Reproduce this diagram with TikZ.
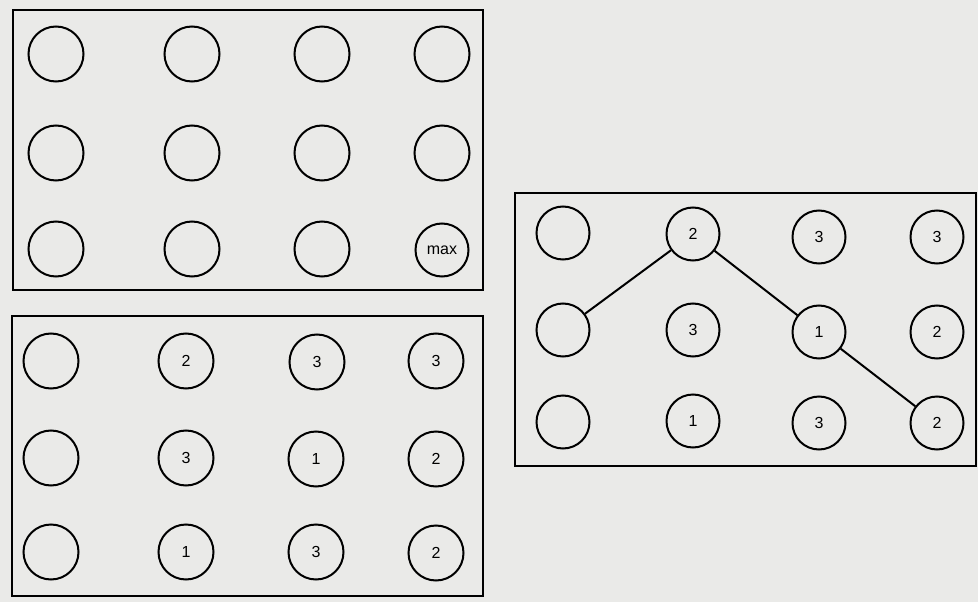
\documentclass[tikz,border=0pt]{standalone}
\usepackage{fontspec}
\setmainfont{Liberation Sans}
\definecolor{page}{HTML}{EAEAE8}
\begin{document}
\begin{tikzpicture}[x=1pt,y=-1pt,
  cell/.style={circle,draw=black,line width=2pt,minimum size=55pt,inner sep=0pt,font=\fontsize{16}{16}\selectfont},
  cellc/.style={circle,draw=black,line width=2pt,minimum size=53pt,inner sep=0pt,font=\fontsize{16}{16}\selectfont},
  panel/.style={draw=black,line width=2pt},
  link/.style={draw=black,line width=2pt}]
\fill[page] (0,0) rectangle (978,602);
\useasboundingbox (0,0) rectangle (978,602);
% Panel A
\draw[panel] (13,10) rectangle (483,290);
\foreach \x [count=\i] in {56,192,322,442}{
  \foreach \y [count=\j] in {54,153,249}{
    \ifnum\i=4 \ifnum\j=3 \else \node[cell] (a\j\i) at (\x,\y) {}; \fi
    \else \node[cell] (a\j\i) at (\x,\y) {}; \fi
  }}
\node[cellc] (a34) at (442,250) {max};
% Panel B
\draw[panel] (12,316) rectangle (483,596);
\node[cell] (b11) at (51,361) {};
\node[cell] (b12) at (186,361) {2};
\node[cell] (b13) at (317,362) {3};
\node[cell] (b14) at (436,361) {3};
\node[cell] (b21) at (51,458) {};
\node[cell] (b22) at (186,458) {3};
\node[cell] (b23) at (316,459) {1};
\node[cell] (b24) at (436,459) {2};
\node[cell] (b31) at (51,552) {};
\node[cell] (b32) at (186,552) {1};
\node[cell] (b33) at (316,552) {3};
\node[cell] (b34) at (436,553) {2};
% Panel C
\draw[panel] (515,193) rectangle (976,466);
\node[cellc] (c11) at (563,233) {};
\node[cellc] (c12) at (693,234) {2};
\node[cellc] (c13) at (819,237) {3};
\node[cellc] (c14) at (937,237) {3};
\node[cellc] (c21) at (563,330) {};
\node[cellc] (c22) at (693,330) {3};
\node[cellc] (c23) at (819,332) {1};
\node[cellc] (c24) at (937,332) {2};
\node[cellc] (c31) at (563,422) {};
\node[cellc] (c32) at (693,421) {1};
\node[cellc] (c33) at (819,423) {3};
\node[cellc] (c34) at (937,423) {2};
\draw[link] (c21) -- (c12);
\draw[link] (c12) -- (c23);
\draw[link] (c23) -- (c34);
\end{tikzpicture}
\end{document}
